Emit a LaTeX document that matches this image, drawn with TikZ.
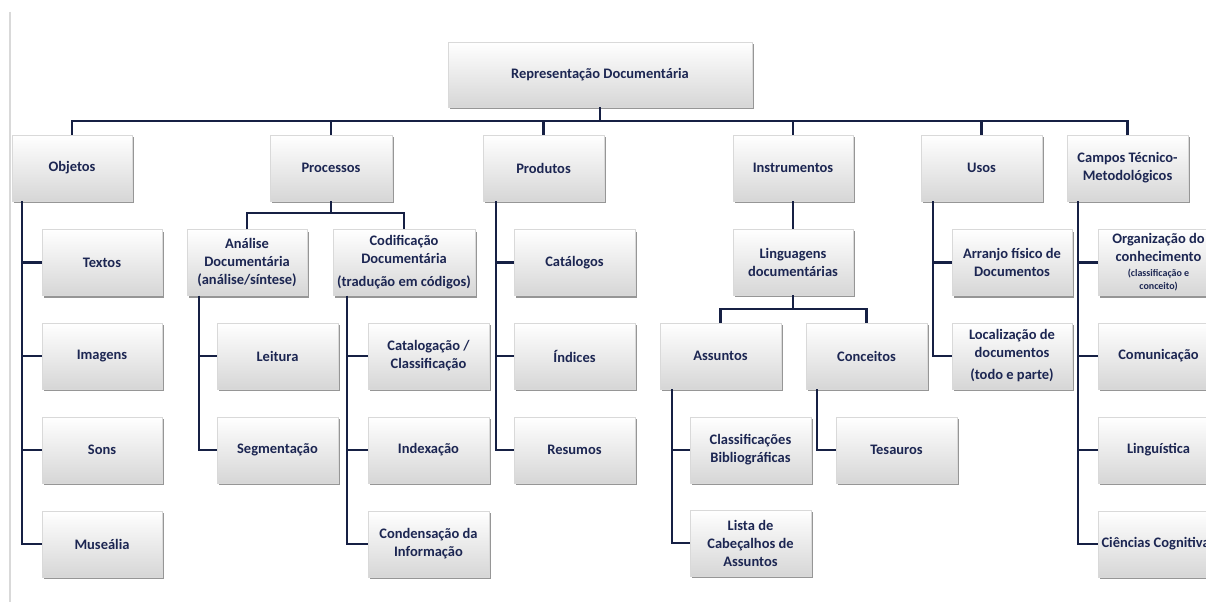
\documentclass[tikz,border=0pt]{standalone}
\usepackage{fontspec}
\setmainfont{Carlito}
\usetikzlibrary{shadows}
\definecolor{txt}{RGB}{28,38,82}
\definecolor{ln}{RGB}{22,32,68}
\begin{document}
\begin{tikzpicture}[x=1pt,y=-1pt,
 box/.style={draw=gray!30, line width=0.4pt, top color=white, bottom color=gray!32,
   drop shadow={shadow xshift=2pt,shadow yshift=-2.2pt,fill=black!55,opacity=0.75},
   minimum height=66pt, minimum width=121pt, inner sep=2pt, align=center, text=txt,
   font=\fontsize{14.5}{18}\selectfont\bfseries},
 conn/.style={draw=ln, line width=2.4pt},
 small/.style={}]
\useasboundingbox (0,0) rectangle (1206,602);
\draw[gray!30, line width=1.5pt] (10,12) -- (10,602);

% level 0 and 1
\node[box, minimum width=304pt, minimum height=65pt] (top) at (600,74.5) {Representação Documentária};
\node[box, minimum width=120pt] (obj) at (72,168) {Objetos};
\node[box, minimum width=122pt] (proc) at (331,168) {Processos};
\node[box] (prod) at (543.5,168) {Produtos};
\node[box, minimum width=120pt] (inst) at (793,168) {Instrumentos};
\node[box] (usos) at (981.5,168) {Usos};
\node[box] (campos) at (1127.5,168) {Campos Técnico-\\Metodológicos};

% Objetos
\node[box, minimum width=120pt] (textos) at (102,262.5) {Textos};
\node[box, minimum width=120pt] (imagens) at (102,356) {Imagens};
\node[box, minimum width=120pt] (sons) at (102,450) {Sons};
\node[box, minimum width=120pt] (museal) at (102,544) {Museália};

% Processos
\node[box, minimum width=120pt] (analise) at (247,262.5) {Análise\\Documentária\\(análise/síntese)};
\node[box, minimum width=142pt] (codif) at (404,262.5) {Codificação\\Documentária\\[5pt](tradução em códigos)};
\node[box] (leitura) at (277.5,356) {Leitura};
\node[box] (segm) at (277.5,450) {Segmentação};
\node[box] (catal) at (428.5,356) {Catalogação /\\Classificação};
\node[box] (index) at (428.5,450) {Indexação};
\node[box] (conden) at (428.5,544) {Condensação da\\Informação};

% Produtos
\node[box] (catalogos) at (574.5,262.5) {Catálogos};
\node[box] (indices) at (574.5,356) {Índices};
\node[box] (resumos) at (574.5,450) {Resumos};

% Instrumentos
\node[box, minimum width=120pt] (ling) at (793,262) {Linguagens\\documentárias};
\node[box] (assuntos) at (720.5,356) {Assuntos};
\node[box] (conceitos) at (866.5,356) {Conceitos};
\node[box] (classif) at (750.5,450) {Classificações\\Bibliográficas};
\node[box] (lista) at (750.5,543) {Lista de\\Cabeçalhos de\\Assuntos};
\node[box] (tesauros) at (896.5,450) {Tesauros};

% Usos
\node[box, minimum width=120pt] (arranjo) at (1012,262.5) {Arranjo físico de\\Documentos};
\node[box, minimum width=120pt] (local) at (1012,356) {Localização de\\documentos\\[4pt](todo e parte)};

% Campos
\node[box] (org) at (1158.5,262.5) {Organização do\\conhecimento\\[-3pt]{\fontsize{10}{12}\selectfont (classificação e}\\[-5pt]{\fontsize{10}{12}\selectfont conceito)}};
\node[box] (comun) at (1158.5,356) {Comunicação};
\node[box] (lingu) at (1158.5,450) {Linguística};
\node[box] (cienc) at (1158.5,544) {Ciências Cognitivas};

% connectors: main bus
\coordinate (bus) at (600,121);
\draw[conn] (top.south) -- (bus);
\draw[conn] (obj.north) |- (bus) -| (campos.north);
\draw[conn] (proc.north) -- (proc.north |- bus);
\draw[conn] (prod.north) -- (prod.north |- bus);
\draw[conn] (inst.north) -- (inst.north |- bus);
\draw[conn] (usos.north) -- (usos.north |- bus);

% Objetos trunk
\coordinate (tO) at ([xshift=10pt]obj.south west);
\draw[conn] (tO) |- (museal.west);
\draw[conn] (tO |- textos.west) -- (textos.west);
\draw[conn] (tO |- imagens.west) -- (imagens.west);
\draw[conn] (tO |- sons.west) -- (sons.west);

% Processos split
\coordinate (pb) at (331,213);
\draw[conn] (proc.south) -- (pb);
\draw[conn] (analise.north) |- (pb) -| (codif.north);

\coordinate (tA) at ([xshift=12pt]analise.south west);
\draw[conn] (tA) |- (segm.west);
\draw[conn] (tA |- leitura.west) -- (leitura.west);

\coordinate (tC) at ([xshift=14pt]codif.south west);
\draw[conn] (tC) |- (conden.west);
\draw[conn] (tC |- catal.west) -- (catal.west);
\draw[conn] (tC |- index.west) -- (index.west);

% Produtos trunk
\coordinate (tP) at ([xshift=13pt]prod.south west);
\draw[conn] (tP) |- (resumos.west);
\draw[conn] (tP |- catalogos.west) -- (catalogos.west);
\draw[conn] (tP |- indices.west) -- (indices.west);

% Instrumentos
\draw[conn] (inst.south) -- (ling.north);
\coordinate (lb) at (793,309);
\draw[conn] (ling.south) -- (lb);
\draw[conn] (assuntos.north) |- (lb) -| (conceitos.north);

\coordinate (tS) at ([xshift=12pt]assuntos.south west);
\draw[conn] (tS) |- (lista.west);
\draw[conn] (tS |- classif.west) -- (classif.west);

\coordinate (tK) at ([xshift=11pt]conceitos.south west);
\draw[conn] (tK) |- (tesauros.west);

% Usos trunk
\coordinate (tU) at ([xshift=12pt]usos.south west);
\draw[conn] (tU) |- (local.west);
\draw[conn] (tU |- arranjo.west) -- (arranjo.west);

% Campos trunk
\coordinate (tM) at ([xshift=11pt]campos.south west);
\draw[conn] (tM) |- (cienc.west);
\draw[conn] (tM |- org.west) -- (org.west);
\draw[conn] (tM |- comun.west) -- (comun.west);
\draw[conn] (tM |- lingu.west) -- (lingu.west);
\end{tikzpicture}
\end{document}
